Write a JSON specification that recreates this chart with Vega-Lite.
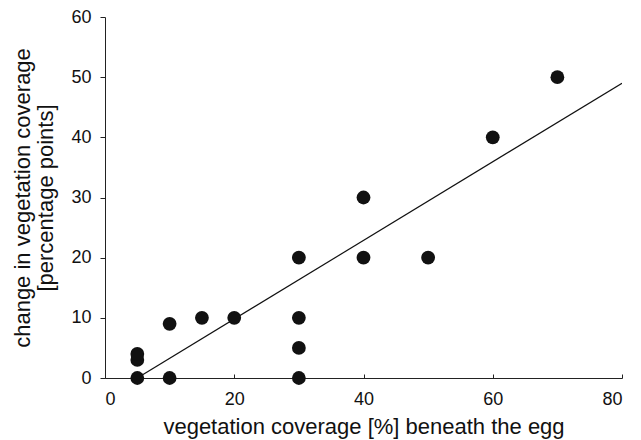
{
  "$schema": "https://vega.github.io/schema/vega-lite/v6.json",
  "width": 517,
  "height": 361,
  "autosize": {"type": "none"},
  "padding": {"left": 105, "top": 17, "right": 19, "bottom": 62},
  "background": "white",
  "config": {
    "view": {"stroke": null},
    "font": "Liberation Sans",
    "axis": {
      "grid": false,
      "domainColor": "#222",
      "tickColor": "#222",
      "labelColor": "#111",
      "titleColor": "#111",
      "labelFont": "Liberation Sans",
      "titleFont": "Liberation Sans",
      "labelFontSize": 18,
      "titleFontSize": 22,
      "titleFontWeight": "normal"
    }
  },
  "datasets": {
    "pts": [
      {"x": 5, "y": 0}, {"x": 5, "y": 3}, {"x": 5, "y": 4},
      {"x": 10, "y": 0}, {"x": 10, "y": 9},
      {"x": 15, "y": 10}, {"x": 20, "y": 10},
      {"x": 30, "y": 0}, {"x": 30, "y": 5}, {"x": 30, "y": 10}, {"x": 30, "y": 20},
      {"x": 40, "y": 20}, {"x": 40, "y": 30},
      {"x": 50, "y": 20}, {"x": 60, "y": 40}, {"x": 70, "y": 50}
    ],
    "fit": [
      {"x": 5, "y": 0}, {"x": 80, "y": 49}
    ]
  },
  "layer": [
    {
      "data": {"name": "fit"},
      "mark": {"type": "line", "color": "#111", "strokeWidth": 1.2, "clip": true},
      "encoding": {
        "x": {"field": "x", "type": "quantitative", "scale": {"domain": [0, 80]},
          "axis": {"values": [0, 20, 40, 60, 80], "title": "vegetation coverage [%] beneath the egg", "tickSize": -4, "labelPadding": 16, "titlePadding": 8}},
        "y": {"field": "y", "type": "quantitative", "scale": {"domain": [0, 60]},
          "axis": {"values": [0, 10, 20, 30, 40, 50, 60], "title": ["change in vegetation coverage", "[percentage points]"], "titleLineHeight": 23, "tickSize": 5, "labelPadding": 9, "titlePadding": 13}}
      }
    },
    {
      "data": {"name": "pts"},
      "mark": {"type": "circle", "color": "#111", "opacity": 1, "size": 190},
      "encoding": {
        "x": {"field": "x", "type": "quantitative"},
        "y": {"field": "y", "type": "quantitative"}
      }
    }
  ]
}
